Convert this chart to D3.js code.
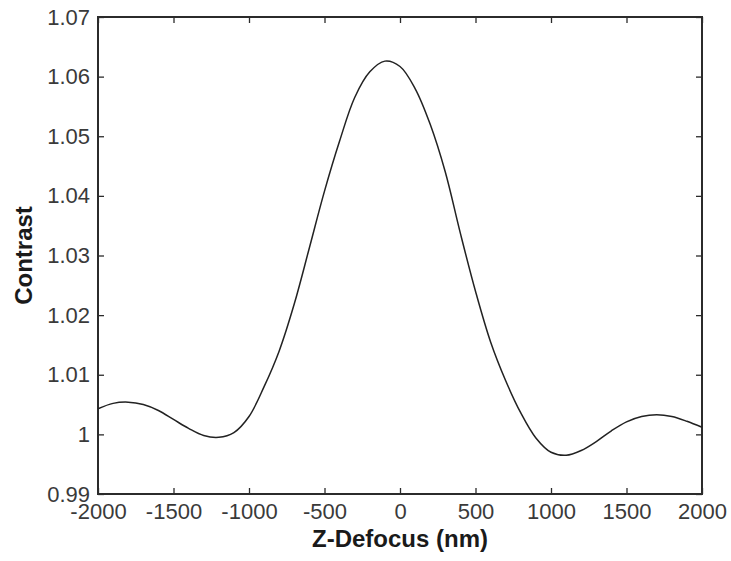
<!DOCTYPE html>
<html>
<head>
<meta charset="utf-8">
<script src="https://cdn.jsdelivr.net/npm/d3@7"></script>
<style>
  body { margin: 0; background: #fff; }
  svg { display: block; font-family: Arial, "Liberation Sans", sans-serif; }
</style>
</head>
<body>
<svg id="chart" width="731" height="561"></svg>
<script>
// z-defocus positions (nm) and measured contrast
let defocus = [-2000, -1900, -1800, -1700, -1600, -1500, -1400, -1300, -1200, -1100,
               -1000, -900, -800, -700, -600, -500, -400, -300, -200, -100,
               0, 100, 200, 300, 400, 500, 600, 700, 800, 900,
               1000, 1100, 1200, 1300, 1400, 1500, 1600, 1700, 1800, 1900, 2000]
let contrast = [1.0043, 1.0052, 1.0054, 1.0050, 1.0040, 1.0025, 1.0010, 0.9998, 0.9995, 1.0003,
                1.0030, 1.0080, 1.0140, 1.0219, 1.0313, 1.0408, 1.0492, 1.0565, 1.0608, 1.0626,
                1.0617, 1.0580, 1.0520, 1.0440, 1.0337, 1.0240, 1.0155, 1.0090, 1.0036, 0.9994,
                0.9970, 0.9965, 0.9973, 0.9988, 1.0006, 1.0021, 1.0030, 1.0033, 1.0030, 1.0022, 1.0012]

let xTicks = [-2000, -1500, -1000, -500, 0, 500, 1000, 1500, 2000]
let yTicks = [0.99, 1, 1.01, 1.02, 1.03, 1.04, 1.05, 1.06, 1.07]

let svg = d3.select('#chart')
let plotLeft = 98, plotRight = 702, plotTop = 17, plotBottom = 494

let x = d3.scaleLinear().domain([-2000, 2000]).range([plotLeft, plotRight])
let y = d3.scaleLinear().domain([0.99, 1.07]).range([plotBottom, plotTop])

let ink = '#2b2b2b'
let tickLen = 6

let drawAxis = (axis, tx, ty) => {
    let g = svg.append('g')
        .attr('transform', 'translate(' + tx + ',' + ty + ')')
        .call(axis)
    g.select('.domain').remove()
    g.selectAll('line').attr('stroke', ink).attr('stroke-width', 1.3)
    g.selectAll('text').attr('fill', '#3a3a3a').attr('font-size', 22)
    return g
}

// bottom and left with labels (plain hyphen minus, as in the original)
drawAxis(d3.axisBottom(x).tickValues(xTicks).tickSize(-tickLen).tickPadding(9).tickFormat((d) => String(d)), 0, plotBottom)
drawAxis(d3.axisLeft(y).tickValues(yTicks).tickSize(-tickLen).tickPadding(8).tickFormat((d) => d === 1 ? '1' : d.toFixed(2)), plotLeft, 0)

// top and right ticks without labels
drawAxis(d3.axisTop(x).tickValues(xTicks).tickSize(-tickLen).tickFormat(''), 0, plotTop)
drawAxis(d3.axisRight(y).tickValues(yTicks).tickSize(-tickLen).tickFormat(''), plotRight, 0)

// frame
svg.append('rect')
    .attr('x', plotLeft).attr('y', plotTop)
    .attr('width', plotRight - plotLeft).attr('height', plotBottom - plotTop)
    .attr('fill', 'none')
    .attr('stroke', ink)
    .attr('stroke-width', 2)

let line = d3.line()
    .x((d, i) => x(defocus[i]))
    .y((d) => y(d))
    .curve(d3.curveCatmullRom)

svg.append('path')
    .datum(contrast)
    .attr('d', line)
    .attr('fill', 'none')
    .attr('stroke', '#222')
    .attr('stroke-width', 1.5)

svg.append('text')
    .attr('x', (plotLeft + plotRight) / 2)
    .attr('y', 547)
    .attr('text-anchor', 'middle')
    .attr('font-size', 24)
    .attr('font-weight', 'bold')
    .attr('fill', '#1a1a1a')
    .text('Z-Defocus (nm)')

svg.append('text')
    .attr('transform', 'translate(32,' + ((plotTop + plotBottom) / 2) + ') rotate(-90)')
    .attr('text-anchor', 'middle')
    .attr('font-size', 24)
    .attr('font-weight', 'bold')
    .attr('fill', '#1a1a1a')
    .text('Contrast')
</script>
</body>
</html>
